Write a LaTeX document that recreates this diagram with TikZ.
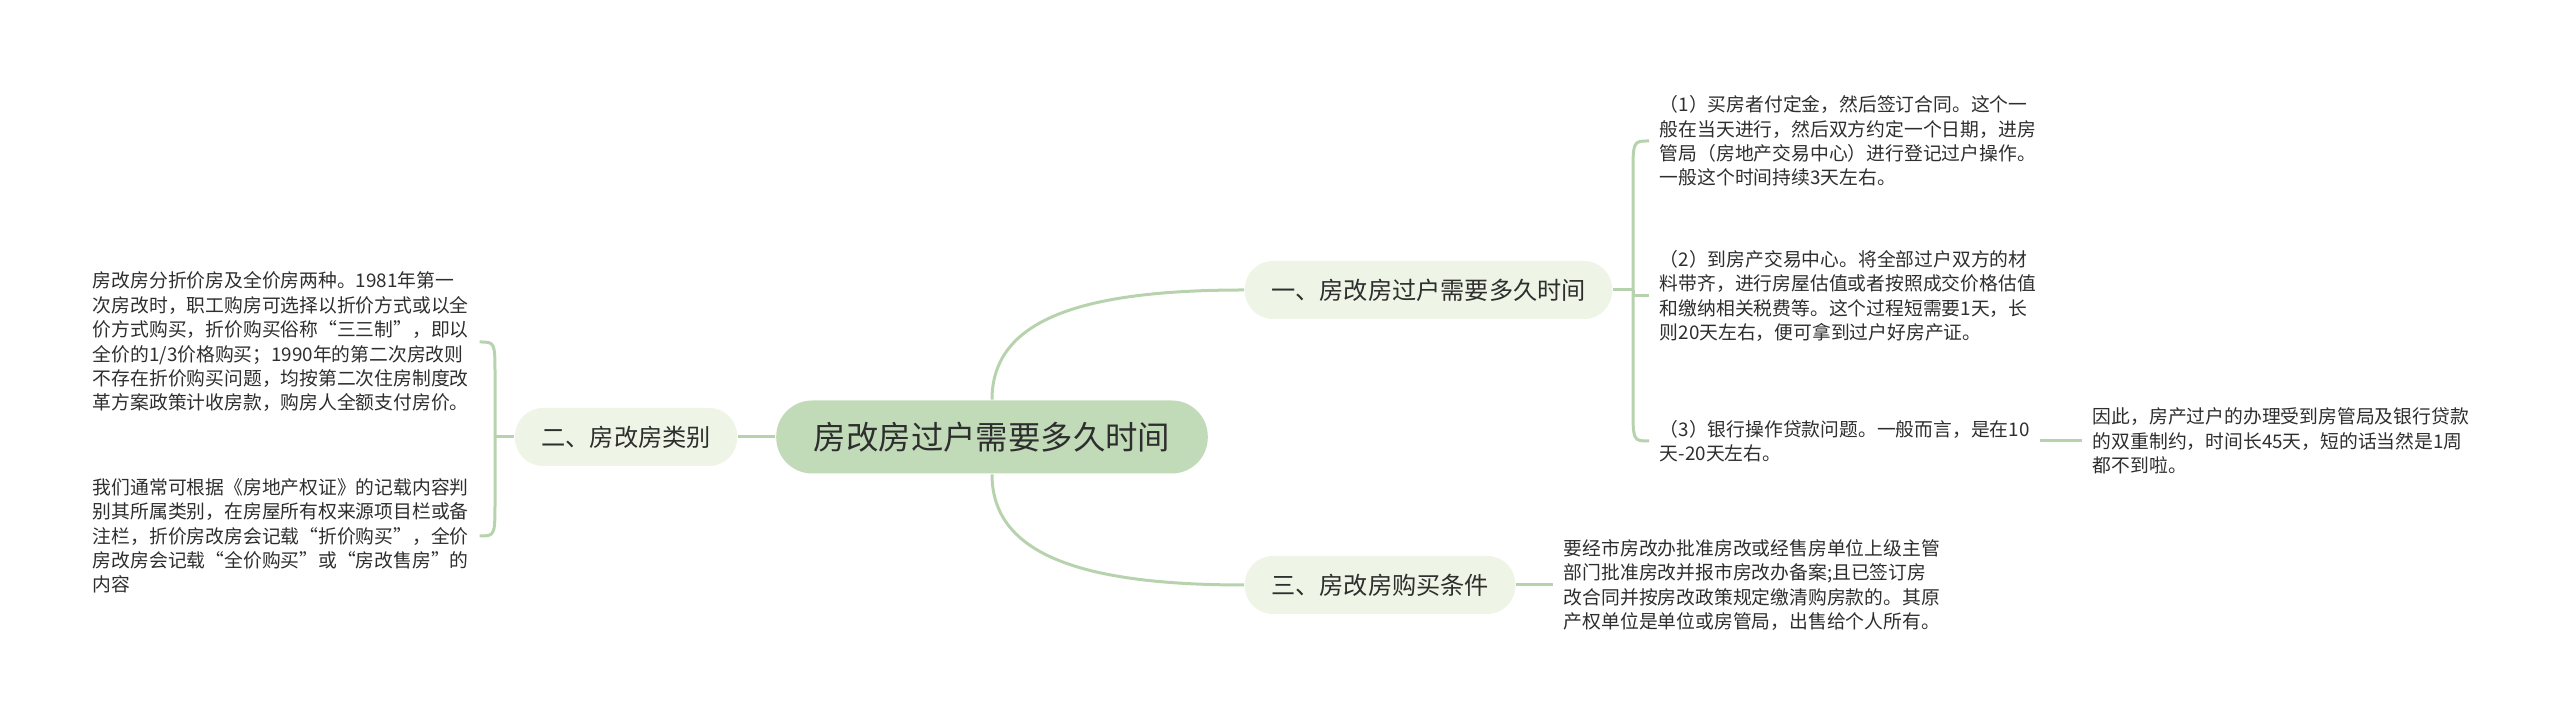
\documentclass[tikz,border=0pt]{standalone}
\usepackage{fontspec}
\newfontfamily\cjk{Noto Sans CJK SC}
\definecolor{rootfill}{HTML}{C1DBB9}
\definecolor{topicfill}{HTML}{EEF5E6}
\definecolor{linkgreen}{HTML}{B7D3AE}
\definecolor{inkgray}{HTML}{2E2E2E}
\begin{document}
\begin{tikzpicture}[x=0.25pt, y=-0.25pt, font=\cjk, text=inkgray,
    rootbox/.style={fill=rootfill, rounded corners=9pt, minimum height=18.25pt,
        inner xsep=9.4pt, font=\cjk\fontsize{8.1}{9}\selectfont},
    topicbox/.style={fill=topicfill, rounded corners=7pt, minimum height=14.5pt,
        inner xsep=6.6pt, font=\cjk\fontsize{6.05}{7}\selectfont},
    leaftext/.style={align=left, inner xsep=2.5pt, inner ysep=1pt,
        font=\cjk\fontsize{4.7}{6.1}\selectfont},
    link/.style={draw=linkgreen, line width=0.75pt}]
    \useasboundingbox (0,0) rectangle (2560,724);

    \node[rootbox] (root) at (992,437) {房改房过户需要多久时间};
    \node[topicbox, anchor=west] (b1) at (1244,290) {一、房改房过户需要多久时间};
    \node[topicbox, anchor=east] (b2) at (738,437) {二、房改房类别};
    \node[topicbox, anchor=west] (b3) at (1244,585) {三、房改房购买条件};

    \node[leaftext, anchor=west] (l1a) at (1649,141) {（1）买房者付定金，然后签订合同。这个一\\般在当天进行，然后双方约定一个日期，进房\\管局（房地产交易中心）进行登记过户操作。\\一般这个时间持续3天左右。};
    \node[leaftext, anchor=west] (l1b) at (1649,296) {（2）到房产交易中心。将全部过户双方的材\\料带齐，进行房屋估值或者按照成交价格估值\\和缴纳相关税费等。这个过程短需要1天，长\\则20天左右，便可拿到过户好房产证。};
    \node[leaftext, anchor=west] (l1c) at (1649,441) {（3）银行操作贷款问题。一般而言，是在10\\天-20天左右。};
    \node[leaftext, anchor=west] (l1d) at (2082,441) {因此，房产过户的办理受到房管局及银行贷款\\的双重制约，时间长45天，短的话当然是1周\\都不到啦。};
    \node[leaftext, anchor=west] (l2a) at (82,342) {房改房分折价房及全价房两种。1981年第一\\次房改时，职工购房可选择以折价方式或以全\\价方式购买，折价购买俗称“三三制”，即以\\全价的1/3价格购买；1990年的第二次房改则\\不存在折价购买问题，均按第二次住房制度改\\革方案政策计收房款，购房人全额支付房价。};
    \node[leaftext, anchor=west] (l2b) at (82,536) {我们通常可根据《房地产权证》的记载内容判\\别其所属类别，在房屋所有权来源项目栏或备\\注栏，折价房改房会记载“折价购买”，全价\\房改房会记载“全价购买”或“房改售房”的\\内容};
    \node[leaftext, anchor=west] (l3) at (1553,585) {要经市房改办批准房改或经售房单位上级主管\\部门批准房改并报市房改办备案;且已签订房\\改合同并按房改政策规定缴清购房款的。其原\\产权单位是单位或房管局，出售给个人所有。};

    \coordinate (f1) at (1633,290);
    \coordinate (f2) at (495,437);

    \draw[link] (root.north) .. controls (992,320) and (1080,290) .. (b1.west);
    \draw[link] (root.south) .. controls (992,554) and (1080,585) .. (b3.west);
    \draw[link] (root.west) -- (b2.east);

    \draw[link] (b1.east) -- (f1);
    \draw[link] (f1) -- (1633,176) .. controls (1633,141) .. (l1a.west);
    \draw[link] (f1) |- (l1b.west);
    \draw[link] (f1) -- (1633,406) .. controls (1633,441) .. (l1c.west);
    \draw[link] (l1c.east) -- (l1d.west);

    \draw[link] (b2.west) -- (f2);
    \draw[link] (f2) -- (495,376) .. controls (495,342) .. (l2a.east);
    \draw[link] (f2) -- (495,500) .. controls (495,536) .. (l2b.east);

    \draw[link] (b3.east) -- (l3.west);
\end{tikzpicture}
\end{document}
